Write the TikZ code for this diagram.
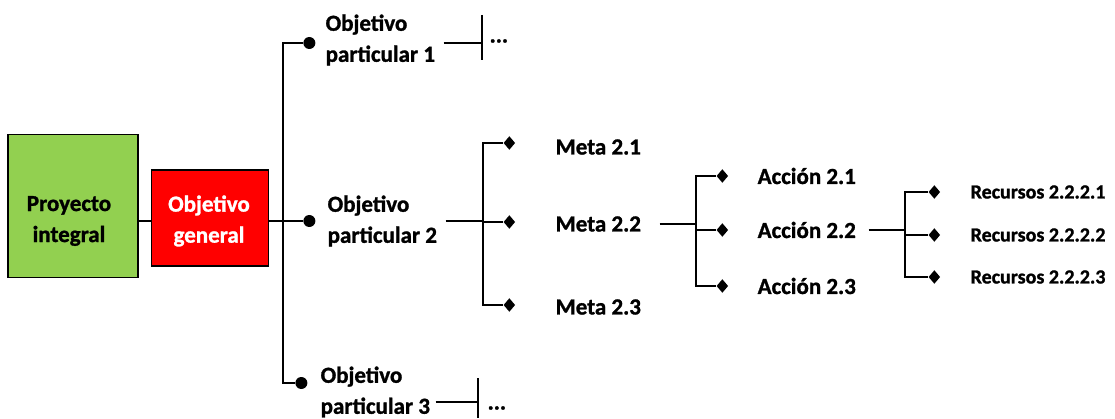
\documentclass[tikz,border=0pt]{standalone}
\usepackage{fontspec}
\setmainfont{Carlito}[BoldFeatures={FakeBold=1.2}]
\usetikzlibrary{positioning,shapes.geometric}
\definecolor{verde}{HTML}{92D050}
\begin{document}
\begin{tikzpicture}[x=1pt, y=-1pt, line width=1.3pt,
		txt/.style={font=\bfseries\fontsize{23}{31}\selectfont, align=left, anchor=west, inner sep=0pt},
		rec/.style={txt, font=\bfseries\fontsize{20}{24}\selectfont},
		box/.style={draw, line width=1.5pt},
		boxtxt/.style={font=\bfseries\fontsize{23}{31}\selectfont, align=center, inner sep=0pt},
		dot/.style={circle, fill, inner sep=0pt, minimum size=12pt},
		dia/.style={diamond, fill, inner sep=0pt, minimum width=12pt, minimum height=14pt}
		]
	\useasboundingbox (0,0) rectangle (1115,419);
	% cajas
	\node [box, fill=verde, minimum width=130pt, minimum height=143pt] (pi) at (73,206) {};
	\node [boxtxt] (pit) at (69,221) {Proyecto\\integral};
	\node [box, fill=red, minimum width=117pt, minimum height=96pt] (og) at (210,218) {};
	\node [boxtxt, text=white] (ogt) at (209,221) {Objetivo\\general};
	% objetivos particulares
	\node [txt] (op1) at (325,40) {Objetivo\\particular 1};
	\node [txt] (op2) at (327,221) {Objetivo\\particular 2};
	\node [txt] (op3) at (320,392) {Objetivo\\particular 3};
	\node [dot, left=9pt of op1, yshift=-3pt] (d1) {};
	\node [dot, left=11pt of op2] (d2) {};
	\node [dot, left=12pt of op3, yshift=9pt] (d3) {};
	% metas
	\node [txt] (m1) at (555,147) {Meta 2.1};
	\node [txt] (m2) at (555,224) {Meta 2.2};
	\node [txt] (m3) at (555,307) {Meta 2.3};
	\node [dia, left=39pt of m1, yshift=4pt] (dm1) {};
	\node [dia, left=39pt of m2, yshift=2pt] (dm2) {};
	\node [dia, left=39pt of m3, yshift=2pt] (dm3) {};
	% acciones
	\node [txt] (a1) at (757,176) {Acción 2.1};
	\node [txt] (a2) at (757,230) {Acción 2.2};
	\node [txt] (a3) at (757,286) {Acción 2.3};
	\node [dia, left=28pt of a1] (da1) {};
	\node [dia, left=28pt of a2] (da2) {};
	\node [dia, left=28pt of a3] (da3) {};
	% recursos
	\node [rec] (r1) at (970,192) {Recursos 2.2.2.1};
	\node [rec] (r2) at (970,235) {Recursos 2.2.2.2};
	\node [rec] (r3) at (970,277) {Recursos 2.2.2.3};
	\node [dia, left=29pt of r1] (dr1) {};
	\node [dia, left=29pt of r2] (dr2) {};
	\node [dia, left=29pt of r3] (dr3) {};
	% puntos de union
	\coordinate (f1) at (283,220);
	\coordinate (f2) at (483,222);
	\coordinate (f3) at (696,230);
	\coordinate (f4) at (905,235);
	\coordinate (t1) at (482,43);
	\coordinate (t3) at (478,402);
	% lineas
	\draw (og.west |- d2) -- (pi.east |- d2);
	\draw (og.east |- d2) -- (d2);
	\draw (d1) -| (f1) |- (d3);
	\draw[shorten <=8pt] (op1.east |- t1) -- (t1);
	\draw (t1) ++(0,-28) -- ++(0,45);
	\draw[shorten <=5pt] (op3.east |- t3) -- (t3);
	\draw (t3) ++(0,-24) -- ++(0,40);
	\node [txt, right=7pt of t1, yshift=2pt] (e1) {...};
	\node [txt, right=9pt of t3, yshift=-6pt] (e3) {...};
	\draw[shorten <=8pt] (op2.east) -- (op2.east -| f2);
	\draw (dm1) -| (f2) |- (dm3);
	\draw (f2 |- dm2) -- (dm2);
	\draw[shorten <=18pt] (m2.east) -- (m2.east -| f3);
	\draw (da1) -| (f3) |- (da3);
	\draw (f3 |- da2) -- (da2);
	\draw[shorten <=12pt] (a2.east) -- (a2.east -| f4);
	\draw (dr1) -| (f4) |- (dr3);
	\draw (f4 |- dr2) -- (dr2);
\end{tikzpicture}
\end{document}
